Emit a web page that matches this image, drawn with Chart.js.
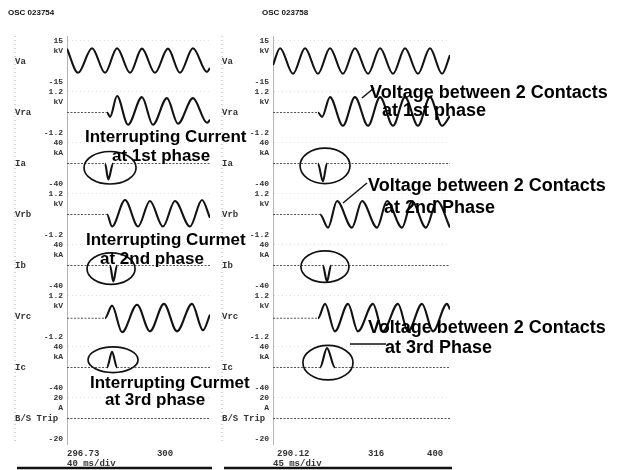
<!DOCTYPE html>
<html>
<head>
<meta charset="utf-8">
<script src="https://cdn.jsdelivr.net/npm/chart.js@4.4.1/dist/chart.umd.min.js"></script>
<style>
  html, body { margin: 0; padding: 0; background: #fff; }
  #page { position: relative; width: 622px; height: 470px; overflow: hidden; }
  canvas { position: absolute; top: 0; }
  #rightOsc { left: 215px; }
  #leftOsc { left: 0; }
</style>
</head>
<body>
<div id="page">
  <canvas id="rightOsc" width="407" height="470"></canvas>
  <canvas id="leftOsc" width="250" height="470"></canvas>
</div>
<script>
// channels, top to bottom
const channels = ['Va', 'Vra', 'Ia', 'Vrb', 'Ib', 'Vrc', 'Ic', 'B/S Trip'];
const fullScale = [15, 1.2, 40, 1.2, 40, 1.2, 40, 20];
const units = ['kV', 'kV', 'kA', 'kV', 'kA', 'kV', 'kA', 'A'];

// OSC 023754 (x = % of sweep, y = channel units)
const leftVa = [[0, 9.2], [7.7, -8.1], [17.5, 9.5], [26.6, -8.1], [35.0, 9.5], [44.1, -8.1], [52.4, 9.2], [61.5, -8.1], [70.6, 9.2], [79.0, -8.1], [88.1, 9.5], [97.9, -7.5], [100, -4.6]];
const leftVra = [[0, 0], [28.0, 0], [30.1, -0.25], [35.0, 0.94], [42.7, -0.70], [52.4, 0.88], [60.1, -0.70], [69.9, 0.82], [77.6, -0.64], [88.1, 0.82], [97.9, -0.59], [100, -0.42]];
const leftIa = [[0, 0], [26.6, 0], [28.9, -30.6], [32.2, 0], [100, 0]];
const leftVrb = [[0, 0], [28.0, 0], [31.5, -0.69], [40.6, 0.83], [49.7, -0.69], [58.0, 0.77], [67.1, -0.69], [75.5, 0.77], [86.0, -0.69], [94.4, 0.83], [100, -0.19]];
const leftIb = [[0, 0], [30.1, 0], [32.4, -30.5], [35.0, 0], [100, 0]];
const leftVrc = [[0, -0.1], [26.6, -0.1], [31.5, 0.62], [38.5, -0.9], [49.0, 0.67], [58.0, -0.85], [67.8, 0.72], [76.9, -0.85], [87.4, 0.72], [95.1, -0.79], [100, 0.11]];
const leftIc = [[0, 0], [28.0, 0], [31.5, 30], [35.0, 0], [100, 0]];
const leftTrip = [[0, 0], [100, 0]];
const leftTicks = [0, 62.9];
const leftTickLabels = ['296.73', '300'];

// OSC 023758
const rightVa = [[0, -2.5], [4.0, 9.5], [11.3, -8.8], [18.1, 9.5], [25.4, -8.8], [32.2, 9.5], [39.5, -8.8], [46.3, 9.5], [53.7, -8.8], [60.5, 9.5], [67.8, -8.8], [74.6, 9.5], [81.9, -8.8], [88.7, 9.5], [95.5, -8.8], [100, 4.6]];
const rightVra = [[0, 0], [25.4, 0], [27.7, -0.25], [32.2, 0.88], [39.5, -0.76], [46.3, 0.88], [53.7, -0.76], [60.5, 0.88], [67.8, -0.76], [74.6, 0.88], [81.9, -0.76], [88.7, 0.88], [95.5, -0.76], [100, -0.2]];
const rightIa = [[0, 0], [25.4, 0], [28.2, -34], [30.5, 0], [100, 0]];
const rightVrb = [[0, 0], [26.6, 0], [31.1, -0.75], [36.2, 0.77], [44.6, -0.75], [50.3, 0.77], [58.8, -0.75], [64.4, 0.77], [72.9, -0.75], [78.5, 0.77], [86.4, -0.75], [92.7, 0.77], [100, -0.75]];
const rightIb = [[0, 0], [28.2, 0], [30.5, -30.5], [32.8, 0], [100, 0]];
const rightVrc = [[0, -0.1], [25.4, -0.1], [29.4, 0.72], [35.0, -0.85], [42.4, 0.72], [48.0, -0.85], [56.5, 0.72], [62.1, -0.85], [70.6, 0.72], [76.3, -0.85], [84.2, 0.72], [90.4, -0.85], [98.3, 0.72], [100, 0.4]];
const rightIc = [[0, 0], [26.6, 0], [30.5, 37], [35.0, 0], [100, 0]];
const rightTrip = [[0, 0], [100, 0]];
const rightTicks = [2.3, 53.7, 87.0];
const rightTickLabels = ['290.12', '316', '400'];

// circled current zeros: channel index, x range, y range
const leftRings = [
  { ch: 2, x: [11.9, 48.3], y: [22.9, -39.1] },
  { ch: 4, x: [14.0, 47.6], y: [24.1, -36.1] },
  { ch: 6, x: [14.7, 49.7], y: [39.3, -9.6] }
];
const rightRings = [
  { ch: 2, x: [15.3, 43.5], y: [29.5, -38.2] },
  { ch: 4, x: [15.8, 42.9], y: [27.8, -32.3] },
  { ch: 6, x: [16.9, 45.2], y: [42.1, -23.7] }
];

const tickFont = { family: 'Liberation Mono', size: 8, weight: 'bold' };
const flat = c => c.p0.parsed.y === c.p1.parsed.y;

function decor(o) {
  return {
    id: 'decor',
    afterDatasetsDraw(chart) {
      const { ctx, chartArea, scales } = chart;
      ctx.save();
      ctx.fillStyle = '#111';
      ctx.textAlign = 'left';
      ctx.textBaseline = 'middle';
      ctx.font = 'bold 8px "Liberation Sans"';
      ctx.fillText(o.title, o.titleX, 13);

      ctx.font = 'bold 9px "Liberation Mono"';
      ctx.fillStyle = '#333';
      channels.forEach((name, i) => {
        ctx.fillText(name, o.nameX, scales['y' + i].getPixelForValue(0));
      });

      // dotted frame on the left, heavy rule at the bottom
      ctx.strokeStyle = '#aaa';
      ctx.lineWidth = 1;
      ctx.setLineDash([1, 3]);
      ctx.beginPath();
      ctx.moveTo(o.nameX, chartArea.top);
      ctx.lineTo(o.nameX, chartArea.bottom);
      ctx.stroke();
      ctx.setLineDash([]);
      ctx.strokeStyle = '#111';
      ctx.lineWidth = 2.5;
      ctx.beginPath();
      ctx.moveTo(o.nameX + 2, 468);
      ctx.lineTo(chartArea.right + 2, 468);
      ctx.stroke();

      // rings round the current zeros
      ctx.lineWidth = 1.7;
      o.rings.forEach(r => {
        const sx = scales.x, sy = scales['y' + r.ch];
        const x0 = sx.getPixelForValue(r.x[0]), x1 = sx.getPixelForValue(r.x[1]);
        const y0 = sy.getPixelForValue(r.y[0]), y1 = sy.getPixelForValue(r.y[1]);
        ctx.beginPath();
        ctx.ellipse((x0 + x1) / 2, (y0 + y1) / 2, Math.abs(x1 - x0) / 2, Math.abs(y1 - y0) / 2, 0, 0, Math.PI * 2);
        ctx.stroke();
      });

      ctx.lineWidth = 1.5;
      o.leaders.forEach(l => {
        ctx.beginPath();
        ctx.moveTo(l[0], l[1]);
        ctx.lineTo(l[2], l[3]);
        ctx.stroke();
      });

      ctx.fillStyle = '#000';
      ctx.textBaseline = 'alphabetic';
      ctx.font = 'bold ' + o.noteSize + 'px "Liberation Sans"';
      o.notes.forEach(n => ctx.fillText(n[0], n[1], n[2]));
      ctx.restore();
    }
  };
}

function oscChart(id, traces, ticks, tickLabels, o) {
  const scales = {
    x: {
      type: 'linear', min: 0, max: 100,
      afterBuildTicks: s => { s.ticks = ticks.map(v => ({ value: v })); },
      afterFit: s => { s.height = 26; s.paddingLeft = 0; s.paddingRight = 0; },
      ticks: {
        autoSkip: false, maxRotation: 0, align: 'start', padding: 4,
        font: { family: 'Liberation Mono', size: 9, weight: 'bold' }, color: '#333',
        callback: (v, i) => tickLabels[i]
      },
      grid: { display: false, drawTicks: false },
      border: { display: false },
      title: {
        display: true, text: o.sweep, align: 'start', color: '#333',
        font: { family: 'Liberation Mono', size: 9, weight: 'bold' }, padding: { top: 0, bottom: 1 }
      }
    }
  };
  // stacked axes are laid out bottom-up, so add the lowest channel first
  for (let i = channels.length - 1; i >= 0; i--) {
    const L = fullScale[i];
    scales['y' + i] = {
      type: 'linear', position: 'left', stack: 'osc', stackWeight: 1,
      min: -L * 1.216, max: L * 1.216,
      afterBuildTicks: s => { s.ticks = [{ value: -L }, { value: L * 0.52 }, { value: L }]; },
      afterFit: s => { s.width = o.axisWidth; s.paddingTop = 0; s.paddingBottom = 0; },
      ticks: {
        autoSkip: false, padding: 4, font: tickFont, color: '#333',
        callback: v => (v === L || v === -L) ? String(v) : units[i]
      },
      grid: {
        drawTicks: false,
        color: c => (c.tick && c.tick.value === L) ? 'rgba(0,0,0,0.12)' : 'rgba(0,0,0,0)'
      },
      border: { color: '#b4b4b4', width: 1, dash: [1, 3] }
    };
  }

  return new Chart(document.getElementById(id), {
    type: 'line',
    data: {
      datasets: traces.map((pts, i) => ({
        label: channels[i],
        data: pts.map(p => ({ x: p[0], y: p[1] })),
        yAxisID: 'y' + i,
        borderColor: '#121212',
        borderWidth: 2.1,
        pointRadius: 0,
        cubicInterpolationMode: 'monotone',
        segment: {
          borderDash: c => flat(c) ? [2, 1.5] : undefined,
          borderColor: c => flat(c) ? '#555' : undefined,
          borderWidth: c => flat(c) ? 1.2 : undefined
        }
      }))
    },
    options: {
      responsive: false,
      animation: false,
      layout: { padding: { left: 0, top: 36, right: o.padRight, bottom: 0 } },
      plugins: { legend: { display: false }, tooltip: { enabled: false } },
      scales
    },
    plugins: [decor(o)]
  });
}

oscChart('rightOsc',
  [rightVa, rightVra, rightIa, rightVrb, rightIb, rightVrc, rightIc, rightTrip],
  rightTicks, rightTickLabels,
  {
    title: 'OSC 023758', titleX: 47, nameX: 7, axisWidth: 58, padRight: 172,
    sweep: '45 ms/div', rings: rightRings, noteSize: 18,
    leaders: [[147, 98, 159, 88], [128, 203, 152, 183], [135, 344, 171, 344]],
    notes: [
      ['Voltage between 2 Contacts', 155, 98], ['at 1st phase', 167, 116],
      ['Voltage between 2 Contacts', 153, 191], ['at 2nd Phase', 169, 213],
      ['Voltage between 2 Contacts', 153, 333], ['at 3rd Phase', 170, 353]
    ]
  });

oscChart('leftOsc',
  [leftVa, leftVra, leftIa, leftVrb, leftIb, leftVrc, leftIc, leftTrip],
  leftTicks, leftTickLabels,
  {
    title: 'OSC 023754', titleX: 8, nameX: 15, axisWidth: 67, padRight: 40,
    sweep: '40 ms/div', rings: leftRings, noteSize: 17, leaders: [],
    notes: [
      ['Interrupting Current', 85, 142], ['at 1st phase', 112, 161],
      ['Interrupting Curmet', 86, 245], ['at 2nd phase', 100, 264],
      ['Interrupting Curmet', 90, 388], ['at 3rd phase', 105, 405]
    ]
  });
</script>
</body>
</html>
